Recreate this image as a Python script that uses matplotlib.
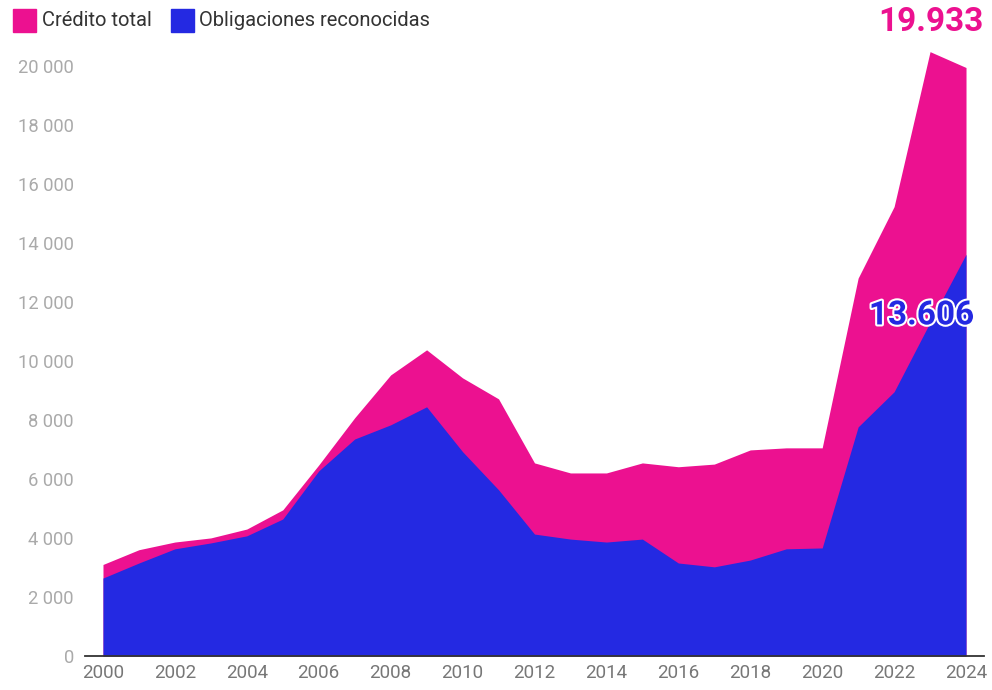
import matplotlib
matplotlib.use("Agg")
import matplotlib.pyplot as plt
import matplotlib.patheffects as pe
from matplotlib.patches import Rectangle
from matplotlib.ticker import FuncFormatter, MultipleLocator

### data
years = list(range(2000, 2025))
credito_total = [3100, 3600, 3860, 4000, 4300, 4950, 6470, 8070, 9520, 10370,
                 9420, 8710, 6540, 6200, 6200, 6540, 6410, 6500, 6980, 7050,
                 7050, 12800, 15220, 20470, 19933]
obligaciones = [2640, 3150, 3630, 3830, 4070, 4640, 6270, 7350, 7830, 8440,
                6920, 5630, 4130, 3960, 3860, 3960, 3150, 3020, 3250, 3630,
                3660, 7760, 8950, 11300, 13606]
series_names = ["Crédito total", "Obligaciones reconocidas"]
label_total = "19.933"
label_oblig = "13.606"

PINK = "#EC1190"
BLUE = "#2429E2"

plt.rcParams['font.family'] = ['Roboto', 'DejaVu Sans']

fig = plt.figure(figsize=(9.92, 6.9), dpi=100)
ax = fig.add_axes([85/992, 34/690, 899/992, 620/690])

ax.fill_between(years, credito_total, color=PINK, linewidth=0)
ax.fill_between(years, obligaciones, color=BLUE, linewidth=0)

ax.set_xlim(1999.5, 2024.5)
ax.set_ylim(0, 21000)
ax.xaxis.set_major_locator(MultipleLocator(2))
ax.yaxis.set_major_locator(MultipleLocator(2000))
ax.yaxis.set_major_formatter(FuncFormatter(lambda v, p: f"{int(v):,}".replace(",", " ")))

for s in ["top", "right", "left"]:
    ax.spines[s].set_visible(False)
ax.spines["bottom"].set_color("#333333")
ax.spines["bottom"].set_linewidth(1.3)
ax.tick_params(axis="y", length=0, pad=8, labelsize=13.2, labelcolor="#AAAAAA")
ax.tick_params(axis="x", length=0, pad=6, labelsize=13.5, labelcolor="#777777")

## end labels
ax.annotate(label_total, xy=(years[-1], credito_total[-1]), xytext=(13, 33),
            textcoords="offset points", ha="right", va="center",
            fontsize=24, fontweight="bold", color=PINK, annotation_clip=False)
ax.annotate(label_oblig, xy=(years[-1], obligaciones[-1]), xytext=(6, -44),
            textcoords="offset points", ha="right", va="center",
            fontsize=24, fontweight="bold", color=BLUE,
            path_effects=[pe.withStroke(linewidth=3, foreground="white")])

## legend drawn by hand at top left
fig.patches.append(Rectangle((13/992, 1-32/690), 23/992, 23/690,
                             transform=fig.transFigure, color=PINK))
fig.text(42/992, 1-20/690, series_names[0], fontsize=14.5, color="#333333", va="center")
fig.patches.append(Rectangle((171/992, 1-32/690), 23/992, 23/690,
                             transform=fig.transFigure, color=BLUE))
fig.text(199/992, 1-20/690, series_names[1], fontsize=14.5, color="#333333", va="center")

fig.savefig("out.png", dpi=100)
